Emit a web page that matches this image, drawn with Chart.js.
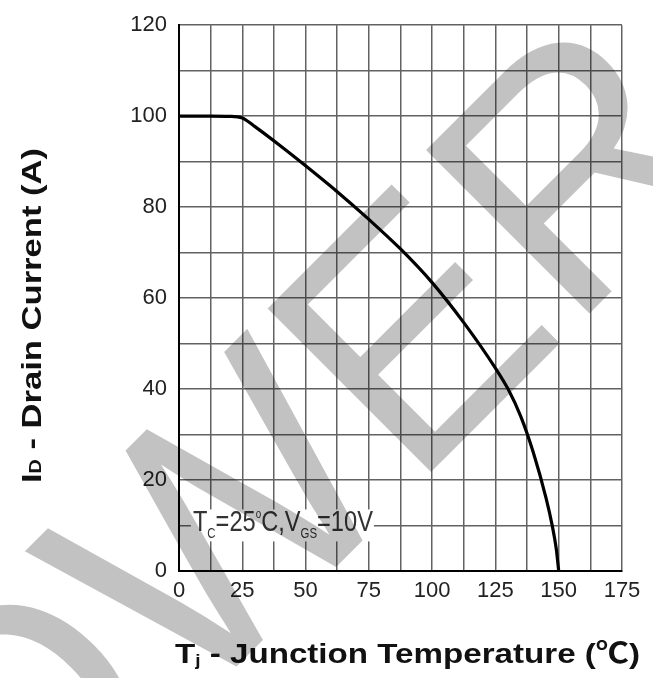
<!DOCTYPE html>
<html>
<head>
<meta charset="utf-8">
<script src="https://cdn.jsdelivr.net/npm/chart.js@4.4.0/dist/chart.umd.min.js"></script>
<style>
html, body { margin: 0; padding: 0; background: #fff; }
#wrap { width: 653px; height: 678px; position: relative; }
</style>
</head>
<body>
<div id="wrap"><canvas id="derating"></canvas></div>
<script>
// max drain current vs junction temperature
var tempC  = [0, 12.5, 20, 25, 30, 40, 50, 62.5, 75, 87.5, 100, 112.5, 125, 130, 135, 140, 145, 147.5, 149, 150];
var drainA = [100, 100, 99.95, 99.6, 97.7, 93.5, 89.1, 83.4, 77.3, 70.8, 63.4, 54.6, 44.6, 40.0, 34.0, 26.0, 16.0, 9.8, 5.0, 0];

var xLabels = [0, 25, 50, 75, 100, 125, 150, 175];
var yLabels = [0, 20, 40, 60, 80, 100, 120];

var FONT = '"Liberation Sans", Arial, "Noto Sans CJK SC", sans-serif';

// draws a row of text pieces (sub/superscripts), squeezed to a given width
function drawRuns(ctx, runs, x, y, width, color) {
  var total = 0;
  runs.forEach(function (r) {
    ctx.font = r.font;
    r.w = ctx.measureText(r.t).width;
    total += r.w;
  });
  var sx = width ? width / total : 1;
  ctx.save();
  ctx.translate(x, y);
  ctx.scale(sx, 1);
  ctx.fillStyle = color;
  ctx.textBaseline = 'alphabetic';
  ctx.textAlign = 'left';
  var cx = 0;
  runs.forEach(function (r) {
    ctx.font = r.font;
    ctx.fillText(r.t, cx, r.dy || 0);
    cx += r.w;
  });
  ctx.restore();
}

var extras = {
  id: 'extras',
  afterDraw: function (chart) {
    var ctx = chart.ctx;
    var xs = chart.scales.x, ys = chart.scales.y;

    // test condition note, white box behind it
    var nx = xs.getPixelForValue(5.5), ny = ys.getPixelForValue(8.7);
    ctx.save();
    ctx.fillStyle = '#fff';
    ctx.fillRect(nx - 2, ny - 22, 183, 32);
    ctx.restore();
    drawRuns(ctx, [
      { t: 'T', font: '29px ' + FONT },
      { t: 'C', font: '14px ' + FONT, dy: 7 },
      { t: '=25', font: '29px ' + FONT },
      { t: 'o', font: '12px ' + FONT, dy: -13 },
      { t: 'C,V', font: '29px ' + FONT },
      { t: 'GS', font: '14px ' + FONT, dy: 7 },
      { t: '=10V', font: '29px ' + FONT }
    ], nx, ny, 180, '#333');

    // axis titles
    drawRuns(ctx, [
      { t: 'T', font: 'bold 28px ' + FONT },
      { t: 'j', font: 'bold 16px ' + FONT, dy: 3 },
      { t: ' - Junction Temperature (\u2103)', font: 'bold 28px ' + FONT }
    ], 175, 663, 465, '#111');

    ctx.save();
    ctx.translate(41, 483);
    ctx.rotate(-Math.PI / 2);
    drawRuns(ctx, [
      { t: 'I', font: 'bold 28px ' + FONT },
      { t: 'D', font: 'bold 16px ' + FONT },
      { t: ' - Drain Current (A)', font: 'bold 28px ' + FONT }
    ], 0, 0, 335, '#111');
    ctx.restore();

    // grey watermark lettering
    var off = document.createElement('canvas');
    off.width = chart.width;
    off.height = chart.height;
    var o = off.getContext('2d');
    o.translate(-156, 1059);
    o.rotate(-Math.PI / 4);
    o.fillStyle = '#c2c2c2';
    o.font = '336px ' + FONT;
    o.fillText('POWER', 0, 0);
    ctx.save();
    ctx.globalCompositeOperation = 'multiply';
    ctx.drawImage(off, 0, 0);
    ctx.restore();
  }
};

new Chart(document.getElementById('derating'), {
  type: 'line',
  data: {
    datasets: [{
      data: tempC.map(function (t, i) { return { x: t, y: drainA[i] }; }),
      borderColor: '#000',
      borderWidth: 3.2,
      pointRadius: 0,
      fill: false,
      cubicInterpolationMode: 'monotone'
    }]
  },
  options: {
    responsive: true,
    maintainAspectRatio: false,
    animation: false,
    layout: { padding: { top: 18, right: 31, left: 0, bottom: 0 } },
    plugins: { legend: { display: false }, tooltip: { enabled: false } },
    scales: {
      x: {
        type: 'linear',
        min: 0,
        max: 175,
        afterFit: function (s) { s.height = 107; },
        border: { display: true, color: '#000', width: 2 },
        grid: { color: '#626262', lineWidth: 1.5, drawTicks: false },
        ticks: {
          stepSize: 12.5,
          padding: 7,
          color: '#222',
          font: { family: FONT, size: 22 },
          maxRotation: 0,
          autoSkip: false,
          callback: function (v) { return xLabels.indexOf(v) >= 0 ? String(v) : ''; }
        }
      },
      y: {
        min: 0,
        max: 120,
        afterFit: function (s) { s.width = 179; },
        border: { display: true, color: '#000', width: 2 },
        grid: { color: '#626262', lineWidth: 1.5, drawTicks: false },
        ticks: {
          stepSize: 10,
          padding: 12,
          color: '#222',
          font: { family: FONT, size: 22 },
          autoSkip: false,
          callback: function (v) { return yLabels.indexOf(v) >= 0 ? String(v) : ''; }
        }
      }
    }
  },
  plugins: [extras]
});
</script>
</body>
</html>
